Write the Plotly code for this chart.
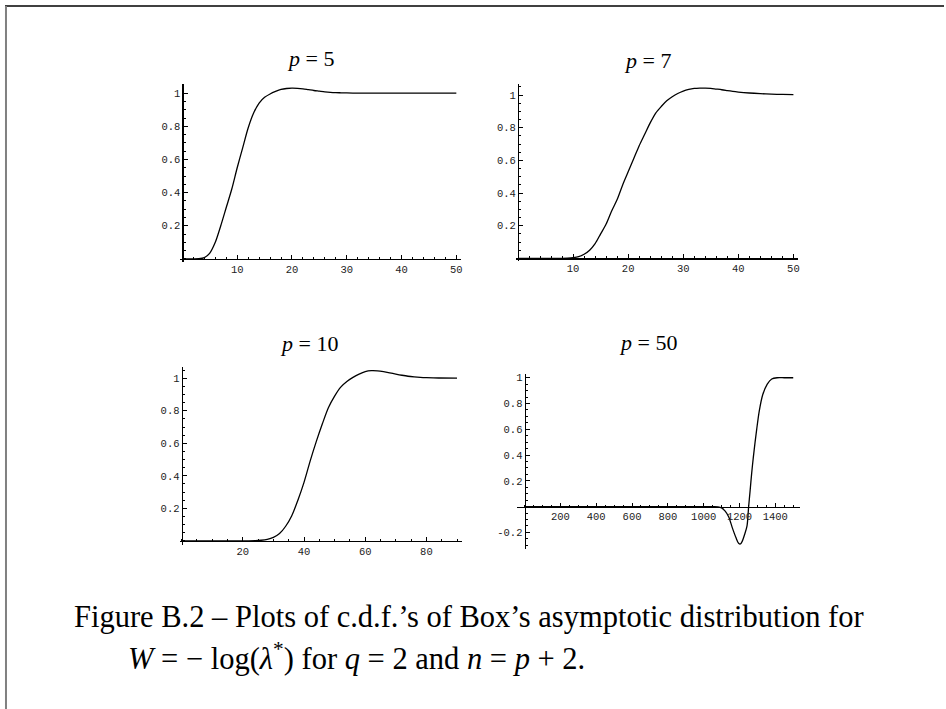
import plotly.graph_objects as go

W, H = 946, 709

# ---------------- data ----------------
p5_x = [0, 1, 2, 3, 4, 5, 6, 7, 8, 9, 10, 11, 12, 13, 14, 15, 16, 17, 18, 19, 20,
        21, 22, 23, 24, 25, 26, 27, 28, 29, 30, 32, 35, 40, 45, 50]
p5_y = [0, 0, 0, 0.001, 0.008, 0.035, 0.10, 0.20, 0.31, 0.42, 0.55, 0.67, 0.79,
        0.88, 0.94, 0.975, 0.995, 1.01, 1.022, 1.028, 1.03, 1.029, 1.026, 1.021,
        1.016, 1.012, 1.008, 1.005, 1.003, 1.002, 1.001, 1.0, 1.0, 1.0, 1.0, 1.0]

p7_x = [0, 4, 8, 9, 10, 11, 12, 13, 14, 15, 16, 17, 18, 19, 20, 21, 22, 23, 24, 25,
        26, 27, 28, 29, 30, 31, 32, 33, 34, 35, 36, 37, 38, 39, 40, 42, 44, 46, 48, 50]
p7_y = [0, 0, 0, 0.001, 0.004, 0.01, 0.025, 0.05, 0.09, 0.15, 0.21, 0.29, 0.36,
        0.45, 0.53, 0.61, 0.69, 0.76, 0.83, 0.89, 0.93, 0.965, 0.99, 1.01, 1.025,
        1.035, 1.041, 1.043, 1.043, 1.041, 1.037, 1.033, 1.028, 1.023, 1.019,
        1.013, 1.009, 1.006, 1.004, 1.003]

p10_x = [0, 10, 20, 22, 24, 26, 28, 30, 32, 34, 36, 38, 40, 42, 44, 46, 48, 50, 52,
         54, 56, 58, 60, 62, 64, 66, 68, 70, 72, 74, 76, 78, 80, 84, 90]
p10_y = [0, 0, 0, 0, 0.001, 0.004, 0.01, 0.022, 0.045, 0.09, 0.155, 0.25, 0.36,
         0.49, 0.61, 0.72, 0.82, 0.89, 0.945, 0.98, 1.005, 1.025, 1.04, 1.046,
         1.045, 1.04, 1.033, 1.025, 1.018, 1.012, 1.008, 1.005, 1.003, 1.001, 1.0]

p50_x = [0, 500, 1000, 1060, 1080, 1100, 1120, 1140, 1160, 1180, 1195, 1205, 1215,
         1230, 1242, 1251, 1259, 1268, 1277, 1287, 1296, 1310, 1330, 1355, 1380,
         1410, 1450, 1500]
p50_y = [0, 0, 0, 0, -0.002, -0.01, -0.035, -0.08, -0.165, -0.24, -0.285, -0.29,
         -0.27, -0.21, -0.15, 0.0, 0.12, 0.26, 0.38, 0.5, 0.6, 0.74, 0.87, 0.95,
         0.99, 1.0, 1.0, 1.0]

titles = ["<i>p</i> = 5", "<i>p</i> = 7", "<i>p</i> = 10", "<i>p</i> = 50"]

x_ticks_50 = [10, 20, 30, 40, 50]
x_ticks_90 = [20, 40, 60, 80]
x_ticks_1500 = [200, 400, 600, 800, 1000, 1200, 1400]
y_ticks_pos = [0.2, 0.4, 0.6, 0.8, 1]
y_ticks_neg = [-0.2, 0.2, 0.4, 0.6, 0.8, 1]
y_tick_text_pos = ["0.2", "0.4", "0.6", "0.8", "1"]
y_tick_text_neg = ["-0.2", "0.2", "0.4", "0.6", "0.8", "1"]

caption_1 = "Figure B.2 \u2013 Plots of c.d.f.\u2019s of Box\u2019s asymptotic distribution for"
caption_2 = ("<i>W</i> = \u2212 log(<i>\u03bb</i><sup>*</sup>) for <i>q</i> = 2 and "
             "<i>n</i> = <i>p</i> + 2.")

# ---------------- layout geometry ----------------
panels = [
    dict(x=p5_x, y=p5_y, xr=[-0.4, 50.8], yr=[-0.02, 1.054], xd=[180.6, 461.7], yd=[83.3, 261.6],
         xt=x_ticks_50, xm=2, yt=y_ticks_pos, ytt=y_tick_text_pos, tp=(311, 58)),
    dict(x=p7_x, y=p7_y, xr=[-0.4, 50.8], yr=[-0.014, 1.067], xd=[516.9, 799.5], yd=[83.3, 260.0],
         xt=x_ticks_50, xm=2, yt=y_ticks_pos, ytt=y_tick_text_pos, tp=(649, 60)),
    dict(x=p10_x, y=p10_y, xr=[-0.65, 91.7], yr=[-0.026, 1.067], xd=[180.0, 463.2], yd=[366.8, 544.9],
         xt=x_ticks_90, xm=5, yt=y_ticks_pos, ytt=y_tick_text_pos, tp=(310, 343)),
    dict(x=p50_x, y=p50_y, xr=[-40, 1535], yr=[-0.326, 1.031], xd=[518.5, 801.2], yd=[373.3, 548.4],
         xt=x_ticks_1500, xm=50, yt=y_ticks_neg, ytt=y_tick_text_neg, tp=(649, 342)),
]

fig = go.Figure()
layout = dict(
    width=W, height=H, autosize=False,
    margin=dict(l=0, r=0, t=0, b=0, pad=0),
    paper_bgcolor="white", plot_bgcolor="white",
    showlegend=False,
)

tickfont = dict(family="Liberation Mono, Courier New, monospace", size=10.5, color="#222222")
annotations = []

for i, pnl in enumerate(panels, start=1):
    sfx = "" if i == 1 else str(i)
    xd = [pnl["xd"][0] / W, pnl["xd"][1] / W]
    yd = [1 - pnl["yd"][1] / H, 1 - pnl["yd"][0] / H]
    xr, yr = pnl["xr"], pnl["yr"]
    ypos = yd[0] + (0 - yr[0]) / (yr[1] - yr[0]) * (yd[1] - yd[0])
    xpos = xd[0] + (0 - xr[0]) / (xr[1] - xr[0]) * (xd[1] - xd[0])

    fig.add_trace(go.Scatter(
        x=pnl["x"], y=pnl["y"], mode="lines",
        line=dict(color="black", width=1.3, shape="spline", smoothing=0.8),
        xaxis="x" + sfx, yaxis="y" + sfx, hoverinfo="skip",
    ))

    layout["xaxis" + sfx] = dict(
        domain=xd, range=xr, anchor="free", position=ypos,
        showgrid=False, zeroline=False, showline=True, linecolor="black", linewidth=1.2,
        ticks="inside", ticklen=4, tickwidth=1, tickcolor="black",
        tickmode="array", tickvals=pnl["xt"], ticktext=[str(v) for v in pnl["xt"]],
        tickfont=tickfont,
        minor=dict(ticks="inside", ticklen=2, tickwidth=1, tickcolor="black",
                   tickmode="linear", tick0=0, dtick=pnl["xm"], showgrid=False),
        fixedrange=True,
    )
    layout["yaxis" + sfx] = dict(
        domain=yd, range=yr, anchor="free", position=xpos,
        showgrid=False, zeroline=False, showline=True, linecolor="black", linewidth=1.2,
        ticks="inside", ticklen=4, tickwidth=1, tickcolor="black",
        tickmode="array", tickvals=pnl["yt"], ticktext=pnl["ytt"],
        tickfont=tickfont,
        minor=dict(ticks="inside", ticklen=2, tickwidth=1, tickcolor="black",
                   tickmode="linear", tick0=0, dtick=0.05, showgrid=False),
        fixedrange=True,
    )

    annotations.append(dict(
        text=titles[i - 1], xref="paper", yref="paper",
        x=pnl["tp"][0] / W, y=1 - pnl["tp"][1] / H,
        xanchor="center", yanchor="middle", showarrow=False,
        font=dict(family="Liberation Serif, Times New Roman, serif", size=22, color="black"),
    ))

cap_font = dict(family="Liberation Serif, Times New Roman, serif", size=30.5, color="black")
annotations.append(dict(
    text=caption_1, xref="paper", yref="paper", x=72 / W, y=1 - 617 / H,
    xanchor="left", yanchor="middle", showarrow=False, font=cap_font,
))
annotations.append(dict(
    text=caption_2, xref="paper", yref="paper", x=126 / W, y=1 - 656 / H,
    xanchor="left", yanchor="middle", showarrow=False, font=cap_font,
))

layout["annotations"] = annotations
layout["shapes"] = [
    dict(type="line", xref="paper", yref="paper", x0=5 / W, x1=1, y0=1 - 5 / H, y1=1 - 5 / H,
         line=dict(color="black", width=1.5)),
    dict(type="line", xref="paper", yref="paper", x0=6 / W, x1=6 / W, y0=0, y1=1 - 5 / H,
         line=dict(color="#808080", width=2)),
]

fig.update_layout(**layout)
fig.write_html(
    "out.html",
    config={"displayModeBar": False, "staticPlot": True},
    post_script="document.body.style.margin='0';document.body.style.padding='0';"
                "document.body.style.overflow='hidden';",
)
